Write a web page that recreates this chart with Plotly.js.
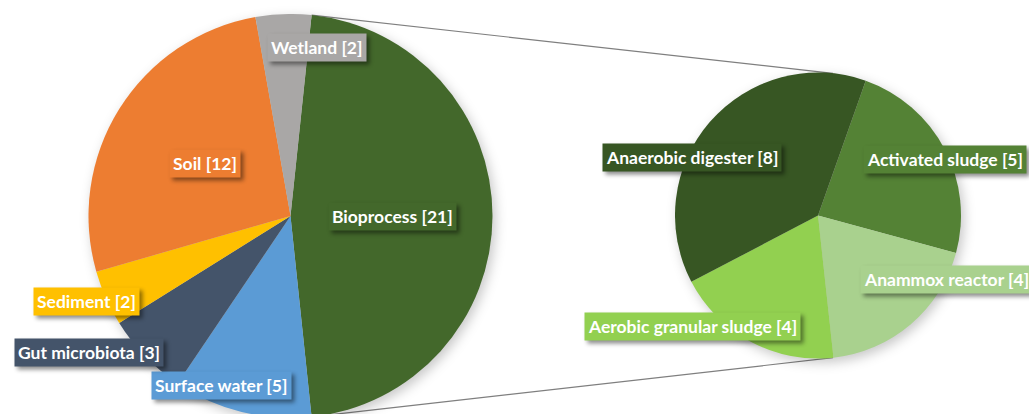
<!DOCTYPE html>
<html>
<head>
<meta charset="utf-8">
<script src="https://cdn.plot.ly/plotly-3.0.1.min.js"></script>
<style>
  html, body { margin: 0; padding: 0; overflow: hidden; background: #fff; }
  #chart { width: 1029px; height: 440px; }
  .pielayer .trace { filter: drop-shadow(3px 4px 6px rgba(0,0,0,0.22)); }
  .annotation rect.bg { filter: drop-shadow(3px 3px 2px rgba(0,0,0,0.45)); }
</style>
</head>
<body>
<div id="chart"></div>
<script>
// ---- data ----
const mainLabels = ['Bioprocess', 'Surface water', 'Gut microbiota', 'Sediment', 'Soil', 'Wetland'];
const mainValues = [21, 5, 3, 2, 12, 2];
const mainColors = ['#43682B', '#5B9BD5', '#44546A', '#FFC000', '#ED7D31', '#A9A7A6'];

const subLabels = ['Activated sludge', 'Anammox reactor', 'Aerobic granular sludge', 'Anaerobic digester'];
const subValues = [5, 4, 4, 8];
const subColors = ['#548235', '#A9D18E', '#92D050', '#375623'];

// ---- geometry (pixels) ----
const W = 1029, H = 440;
const mainGeo = { cx: 290.5, cy: 216, r: 202, rotation: 6 };
const subGeo = { cx: 818, cy: 215.5, r: 143, rotation: 19.5 };

function domainOf(g) {
  return {
    x: [(g.cx - g.r) / W, (g.cx + g.r) / W],
    y: [(H - g.cy - g.r) / H, (H - g.cy + g.r) / H]
  };
}
const px = x => x / W;
const py = y => (H - y) / H;

const traces = [
  {
    type: 'pie', labels: mainLabels, values: mainValues, sort: false,
    direction: 'clockwise', rotation: mainGeo.rotation,
    marker: { colors: mainColors, line: { width: 0 } },
    textinfo: 'none', hoverinfo: 'label+value', domain: domainOf(mainGeo)
  },
  {
    type: 'pie', labels: subLabels, values: subValues, sort: false,
    direction: 'clockwise', rotation: subGeo.rotation,
    marker: { colors: subColors, line: { width: 0 } },
    textinfo: 'none', hoverinfo: 'label+value', domain: domainOf(subGeo)
  }
];

// connector lines: edges of the Bioprocess slice, joined to the same angles on the secondary pie
const mainTotal = mainValues.reduce((a, b) => a + b, 0);
const a1 = mainGeo.rotation * Math.PI / 180;
const a2 = (mainGeo.rotation + 360 * mainValues[0] / mainTotal) * Math.PI / 180;
function pt(g, a) { return [g.cx + g.r * Math.sin(a), g.cy - g.r * Math.cos(a)]; }
const shapes = [a1, a2].map(a => {
  const p = pt(mainGeo, a), q = pt(subGeo, a);
  return {
    type: 'line', xref: 'paper', yref: 'paper', layer: 'below',
    x0: px(p[0]), y0: py(p[1]), x1: px(q[0]), y1: py(q[1]),
    line: { color: '#7F7F7F', width: 1.2 }
  };
});

// label placement (pixels)
const mainLabelPos = [
  [392, 216, 'center'], [221, 385, 'center'], [89, 352, 'center'],
  [86, 301, 'center'], [205, 163, 'center'], [317, 47, 'center']
];
const subLabelPos = [
  [945, 159, 'center'], [860, 279, 'left'], [692, 326, 'center'], [692, 157, 'center']
];

function makeAnn(label, value, color, pos) {
  return {
    xref: 'paper', yref: 'paper', x: px(pos[0]), y: py(pos[1]),
    xanchor: pos[2], yanchor: 'middle', showarrow: false,
    text: '<b>' + label + ' [' + value + ']</b>',
    font: { family: 'Lato, "Open Sans", sans-serif', size: 17.5, color: '#FFFFFF' },
    bgcolor: color, borderpad: 3
  };
}
const annotations = [];
mainLabels.forEach((l, i) => annotations.push(makeAnn(l, mainValues[i], mainColors[i], mainLabelPos[i])));
subLabels.forEach((l, i) => annotations.push(makeAnn(l, subValues[i], subColors[i], subLabelPos[i])));

const layout = {
  width: W, height: H,
  margin: { l: 0, r: 0, t: 0, b: 0 },
  paper_bgcolor: '#FFFFFF',
  showlegend: false,
  shapes: shapes,
  annotations: annotations
};

Plotly.newPlot('chart', traces, layout, { displayModeBar: false, staticPlot: true });
</script>
</body>
</html>
